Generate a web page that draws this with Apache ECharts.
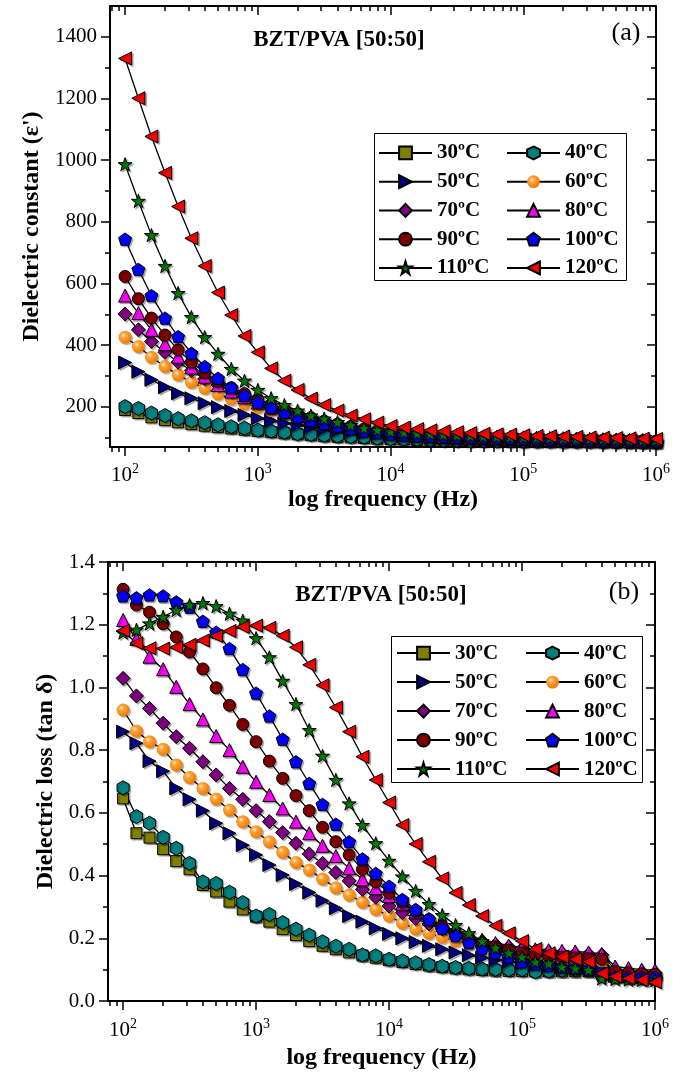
<!DOCTYPE html>
<html>
<head>
<meta charset="utf-8">
<script src="https://cdn.jsdelivr.net/npm/echarts@6/dist/echarts.min.js"></script>
<style>
html, body { margin: 0; padding: 0; background: #fff; }
#chart { width: 686px; height: 1072px; }
</style>
</head>
<body>
<div id="chart"></div>
<script>
// measured frequencies (Hz), 10 points per decade
const freq = [100, 126, 158, 200, 251, 316, 398, 501, 631, 794,
  1000, 1259, 1585, 1995, 2512, 3162, 3981, 5012, 6310, 7943,
  10000, 12589, 15849, 19953, 25119, 31623, 39811, 50119, 63096, 79433,
  100000, 125893, 158489, 199526, 251189, 316228, 398107, 501187, 630957, 794328,
  1000000];

const names = ['30ºC', '40ºC', '50ºC', '60ºC', '70ºC', '80ºC', '90ºC', '100ºC', '110ºC', '120ºC'];

// (a) dielectric constant
const eps30 = [190, 180, 166, 157, 150, 144, 139, 134, 130, 126, 122, 118, 114, 111, 108, 105, 103, 101, 99, 97, 95,
  94, 93, 92, 91, 90, 89, 89, 88, 88, 87, 87, 87, 86, 86, 86, 85, 85, 85, 84, 84];
const eps40 = [201, 195, 180, 172, 162, 155, 149, 142, 136, 131, 125, 122, 118, 113, 111, 108, 106, 104, 102, 99, 97,
  96, 95, 94, 93, 92, 91, 91, 90, 90, 89, 89, 89, 88, 88, 88, 87, 87, 87, 86, 86];
const eps50 = [344, 314, 288, 264, 244, 228, 212, 199, 187, 174, 163, 155, 147, 141, 134, 128, 123, 119, 115, 112, 109,
  107, 105, 103, 101, 100, 99, 98, 97, 96, 95, 94, 93, 93, 92, 91, 91, 90, 90, 89, 89];
const eps60 = [426, 396, 361, 331, 304, 280, 261, 242, 226, 210, 199, 188, 178, 168, 159, 150, 142, 135, 129, 123, 118,
  114, 111, 108, 105, 103, 101, 100, 99, 98, 97, 96, 95, 94, 93, 92, 92, 91, 90, 90, 89];
const eps70 = [501, 450, 412, 377, 345, 318, 291, 271, 250, 233, 216, 200, 186, 173, 162, 152, 143, 135, 128, 122, 117,
  113, 110, 107, 105, 103, 101, 100, 99, 98, 97, 96, 95, 94, 93, 92, 92, 91, 90, 90, 89];
const eps80 = [561, 504, 450, 404, 363, 328, 298, 271, 250, 231, 214, 198, 183, 170, 159, 149, 141, 133, 127, 121, 116,
  112, 109, 106, 104, 102, 100, 99, 98, 97, 96, 95, 94, 93, 93, 92, 91, 91, 90, 90, 89];
const eps90 = [623, 551, 488, 433, 385, 345, 311, 282, 262, 243, 225, 208, 192, 178, 165, 154, 144, 136, 128, 122, 117,
  113, 110, 107, 105, 103, 101, 100, 99, 98, 97, 96, 95, 94, 93, 92, 92, 91, 90, 90, 89];
const eps100 = [744, 646, 561, 488, 428, 374, 331, 293, 263, 237, 215, 199, 182, 168, 156, 147, 138, 130, 122, 117, 112,
  109, 107, 105, 104, 102, 101, 100, 99, 98, 97, 96, 95, 94, 94, 93, 92, 91, 91, 90, 89];
const eps110 = [987, 868, 757, 657, 569, 491, 426, 372, 323, 285, 255, 228, 206, 188, 172, 162, 151, 141, 132, 125, 120,
  117, 114, 112, 110, 108, 106, 104, 103, 102, 101, 100, 99, 98, 97, 96, 95, 94, 93, 92, 91];
const eps120 = [1330, 1201, 1077, 959, 850, 747, 657, 571, 498, 430, 377, 325, 285, 255, 227, 206, 188, 172, 160, 149, 138,
  133, 128, 124, 121, 118, 115, 113, 111, 110, 108, 106, 105, 104, 103, 101, 100, 99, 98, 97, 96];

// (b) dielectric loss
const tan30 = [0.646, 0.535, 0.521, 0.484, 0.446, 0.420, 0.370, 0.349, 0.317, 0.292, 0.269, 0.253, 0.229, 0.210, 0.191, 0.176, 0.165, 0.155, 0.145, 0.138, 0.130,
  0.124, 0.118, 0.113, 0.108, 0.104, 0.101, 0.099, 0.097, 0.096, 0.095, 0.094, 0.094, 0.094, 0.094, 0.094, 0.085, 0.078, 0.075, 0.073, 0.071];
const tan40 = [0.680, 0.588, 0.567, 0.522, 0.487, 0.439, 0.380, 0.375, 0.347, 0.314, 0.271, 0.276, 0.250, 0.229, 0.210, 0.189, 0.175, 0.165, 0.147, 0.144, 0.133,
  0.128, 0.122, 0.116, 0.111, 0.107, 0.104, 0.102, 0.101, 0.100, 0.100, 0.093, 0.096, 0.098, 0.100, 0.102, 0.090, 0.080, 0.077, 0.075, 0.073];
const tan50 = [0.859, 0.822, 0.765, 0.733, 0.678, 0.643, 0.607, 0.567, 0.535, 0.497, 0.466, 0.434, 0.402, 0.373, 0.346, 0.320, 0.296, 0.271, 0.253, 0.232, 0.214,
  0.200, 0.188, 0.176, 0.165, 0.155, 0.146, 0.138, 0.131, 0.125, 0.120, 0.116, 0.112, 0.109, 0.107, 0.105, 0.103, 0.080, 0.078, 0.076, 0.075];
const tan60 = [0.928, 0.861, 0.827, 0.803, 0.753, 0.713, 0.678, 0.644, 0.609, 0.572, 0.540, 0.508, 0.474, 0.442, 0.418, 0.389, 0.361, 0.338, 0.315, 0.292, 0.271,
  0.248, 0.230, 0.216, 0.203, 0.192, 0.182, 0.172, 0.164, 0.157, 0.150, 0.145, 0.140, 0.137, 0.135, 0.132, 0.128, 0.092, 0.088, 0.085, 0.083];
const tan70 = [1.029, 0.973, 0.933, 0.886, 0.843, 0.806, 0.763, 0.721, 0.678, 0.643, 0.607, 0.572, 0.537, 0.503, 0.469, 0.439, 0.410, 0.383, 0.356, 0.331, 0.303,
  0.282, 0.263, 0.246, 0.230, 0.215, 0.202, 0.190, 0.180, 0.172, 0.166, 0.160, 0.156, 0.152, 0.150, 0.149, 0.147, 0.100, 0.095, 0.092, 0.090];
const tan80 = [1.215, 1.155, 1.098, 1.058, 1.002, 0.947, 0.898, 0.845, 0.800, 0.747, 0.699, 0.657, 0.614, 0.572, 0.535, 0.495, 0.462, 0.423, 0.388, 0.360, 0.335,
  0.310, 0.285, 0.262, 0.242, 0.224, 0.208, 0.195, 0.185, 0.177, 0.170, 0.165, 0.162, 0.160, 0.158, 0.155, 0.150, 0.110, 0.105, 0.100, 0.098];
const tan90 = [1.313, 1.263, 1.240, 1.203, 1.161, 1.113, 1.059, 0.999, 0.943, 0.882, 0.827, 0.765, 0.710, 0.655, 0.607, 0.554, 0.508, 0.466, 0.420, 0.380, 0.345,
  0.315, 0.287, 0.260, 0.238, 0.218, 0.200, 0.185, 0.172, 0.162, 0.153, 0.147, 0.143, 0.140, 0.138, 0.135, 0.133, 0.095, 0.090, 0.087, 0.085];
const tan100 = [1.292, 1.286, 1.295, 1.292, 1.273, 1.256, 1.211, 1.176, 1.124, 1.057, 0.982, 0.909, 0.835, 0.763, 0.694, 0.627, 0.564, 0.508, 0.453, 0.407, 0.366,
  0.324, 0.292, 0.261, 0.232, 0.208, 0.186, 0.168, 0.154, 0.141, 0.125, 0.118, 0.113, 0.108, 0.104, 0.100, 0.080, 0.077, 0.076, 0.075, 0.075];
const tan110 = [1.175, 1.184, 1.204, 1.225, 1.247, 1.263, 1.269, 1.259, 1.235, 1.213, 1.157, 1.096, 1.021, 0.947, 0.864, 0.782, 0.705, 0.630, 0.561, 0.503, 0.447,
  0.397, 0.351, 0.309, 0.274, 0.242, 0.216, 0.191, 0.170, 0.154, 0.141, 0.125, 0.120, 0.109, 0.104, 0.099, 0.072, 0.070, 0.068, 0.067, 0.066];
const tan120 = [1.181, 1.141, 1.125, 1.124, 1.128, 1.136, 1.150, 1.164, 1.180, 1.193, 1.197, 1.190, 1.165, 1.128, 1.072, 1.007, 0.936, 0.859, 0.779, 0.705, 0.633,
  0.561, 0.501, 0.444, 0.391, 0.345, 0.306, 0.271, 0.240, 0.216, 0.191, 0.166, 0.152, 0.141, 0.133, 0.125, 0.088, 0.078, 0.072, 0.067, 0.060];

const epsData = [eps30, eps40, eps50, eps60, eps70, eps80, eps90, eps100, eps110, eps120];
const tanData = [tan30, tan40, tan50, tan60, tan70, tan80, tan90, tan100, tan110, tan120];

// tick positions
const xMajor = [100, 1000, 10000, 100000, 1000000];
const xMinor = [80, 90, 200, 300, 400, 500, 600, 700, 800, 900,
  2000, 3000, 4000, 5000, 6000, 7000, 8000, 9000,
  20000, 30000, 40000, 50000, 60000, 70000, 80000, 90000,
  200000, 300000, 400000, 500000, 600000, 700000, 800000, 900000];
const epsMajor = [200, 400, 600, 800, 1000, 1200, 1400];
const epsMinor = [100, 300, 500, 700, 900, 1100, 1300];

const FONT = '"Liberation Serif", "Times New Roman", serif';

const triRight = 'path://M0,0L10,5L0,10Z';
const triLeft = 'path://M10,0L0,5L10,10Z';
const hexagon = 'path://M5,0L9.33,2.5L9.33,7.5L5,10L0.67,7.5L0.67,2.5Z';
const pentagon = 'path://M5,0L9.755,3.455L7.939,9.045L2.061,9.045L0.245,3.455Z';
const star = 'path://M5,0L6.123,3.455L9.755,3.455L6.817,5.59L7.939,9.045L5,6.91L2.061,9.045L3.183,5.59L0.245,3.455L3.877,3.455Z';

const sphere = {
  type: 'radial', x: 0.38, y: 0.35, r: 0.65,
  colorStops: [
    { offset: 0, color: '#fff3dc' },
    { offset: 0.3, color: '#ffa53a' },
    { offset: 1, color: '#f07a00' },
  ],
};

const markers = [
  { symbol: 'rect', size: 11, color: '#808000' },
  { symbol: hexagon, size: 14, color: '#008080' },
  { symbol: triRight, size: 13, color: '#000080' },
  { symbol: 'circle', size: 13, color: sphere, border: 0 },
  { symbol: 'diamond', size: 14, color: '#800080' },
  { symbol: 'triangle', size: 13, color: '#ff00ff' },
  { symbol: 'circle', size: 12, color: '#800000' },
  { symbol: pentagon, size: 13, color: '#0000ff' },
  { symbol: star, size: 14, color: '#008000' },
  { symbol: triLeft, size: 13, color: '#ff0000' },
];

const black = { color: '#000', width: 1.5 };

function makeSeries(data, grid) {
  return data.map((vals, i) => ({
    name: names[i],
    type: 'line',
    xAxisIndex: grid * 4,
    yAxisIndex: grid * 4,
    data: freq.map((f, k) => [f, vals[k]]),
    symbol: markers[i].symbol,
    symbolSize: markers[i].size,
    symbolKeepAspect: true,
    showAllSymbol: true,
    lineStyle: { color: '#000', width: 1.3 },
    itemStyle: {
      color: markers[i].color,
      borderColor: '#000',
      borderWidth: markers[i].border === 0 ? 0 : 1,
      shadowColor: 'rgba(0,0,0,0.3)',
      shadowOffsetX: 1.5,
      shadowOffsetY: 1.5,
      shadowBlur: 1,
    },
    emphasis: { disabled: true },
    animation: false,
  }));
}

function supLabel(v) {
  const e = Math.round(Math.log10(v));
  return '{b|10}{s|' + e + '}';
}

function xAxes(grid, margin, nameGap) {
  const base = { gridIndex: grid, type: 'log', logBase: 10, min: 77, max: 1000000, splitLine: { show: false } };
  return [
    Object.assign({}, base, {
      position: 'bottom',
      name: 'log frequency (Hz)',
      nameLocation: 'middle',
      nameGap: nameGap,
      nameTextStyle: { fontFamily: FONT, fontWeight: 'bold', fontSize: 24, color: '#000' },
      axisLine: { show: true, onZero: false, lineStyle: { color: '#000', width: 2 } },
      axisTick: { show: true, inside: false, length: 9, lineStyle: black, customValues: xMajor },
      axisLabel: {
        customValues: xMajor, margin: margin, color: '#000', formatter: supLabel,
        rich: {
          b: { fontFamily: FONT, fontSize: 21, lineHeight: 26, color: '#000' },
          s: { fontFamily: FONT, fontSize: 14, lineHeight: 12, verticalAlign: 'top', color: '#000' },
        },
      },
    }),
    Object.assign({}, base, {
      position: 'bottom',
      axisLine: { show: false, onZero: false },
      axisTick: { show: true, inside: false, length: 5, lineStyle: black, customValues: xMinor },
      axisLabel: { show: false },
    }),
    Object.assign({}, base, {
      position: 'top',
      axisLine: { show: true, onZero: false, lineStyle: { color: '#000', width: 2 } },
      axisTick: { show: true, inside: true, length: 9, lineStyle: black, customValues: xMajor },
      axisLabel: { show: false },
    }),
    Object.assign({}, base, {
      position: 'top',
      axisLine: { show: false, onZero: false },
      axisTick: { show: true, inside: true, length: 5, lineStyle: black, customValues: xMinor },
      axisLabel: { show: false },
    }),
  ];
}

const yName = { fontFamily: FONT, fontWeight: 'bold', fontSize: 24, color: '#000' };
const yLabel = { fontFamily: FONT, fontSize: 21, color: '#000', margin: 13 };

const yAxesA = [
  {
    gridIndex: 0, type: 'value', min: 70, max: 1500, position: 'left',
    name: 'Dielectric constant (ε\')', nameLocation: 'middle', nameGap: 59, nameTextStyle: yName,
    axisLine: { show: true, onZero: false, lineStyle: { color: '#000', width: 2 } },
    axisTick: { show: true, inside: false, length: 9, lineStyle: black, customValues: epsMajor },
    axisLabel: Object.assign({ customValues: epsMajor, formatter: (v) => String(v) }, yLabel),
    splitLine: { show: false },
  },
  {
    gridIndex: 0, type: 'value', min: 70, max: 1500, position: 'left',
    axisLine: { show: false, onZero: false },
    axisTick: { show: true, inside: false, length: 5, lineStyle: black, customValues: epsMinor },
    axisLabel: { show: false }, splitLine: { show: false },
  },
  {
    gridIndex: 0, type: 'value', min: 70, max: 1500, position: 'right',
    axisLine: { show: true, onZero: false, lineStyle: { color: '#000', width: 2 } },
    axisTick: { show: true, inside: true, length: 9, lineStyle: black, customValues: epsMajor },
    axisLabel: { show: false }, splitLine: { show: false },
  },
  {
    gridIndex: 0, type: 'value', min: 70, max: 1500, position: 'right',
    axisLine: { show: false, onZero: false },
    axisTick: { show: true, inside: true, length: 5, lineStyle: black, customValues: epsMinor },
    axisLabel: { show: false }, splitLine: { show: false },
  },
];

const yAxesB = [
  {
    gridIndex: 1, type: 'value', min: 0, max: 1.4, interval: 0.2, position: 'left',
    name: 'Dielectric loss (tan δ)', nameLocation: 'middle', nameGap: 41, nameTextStyle: yName,
    axisLine: { show: true, onZero: false, lineStyle: { color: '#000', width: 2 } },
    axisTick: { show: true, inside: false, length: 9, lineStyle: black },
    minorTick: { show: true, splitNumber: 2, length: 5, lineStyle: black },
    axisLabel: Object.assign({ formatter: (v) => v.toFixed(1) }, yLabel),
    splitLine: { show: false }, minorSplitLine: { show: false },
  },
  {
    gridIndex: 1, type: 'value', min: 0, max: 1.4, interval: 0.2, position: 'right',
    axisLine: { show: true, onZero: false, lineStyle: { color: '#000', width: 2 } },
    axisTick: { show: true, inside: true, length: 9, lineStyle: black },
    minorTick: { show: true, splitNumber: 2, length: 5, lineStyle: black },
    axisLabel: { show: false }, splitLine: { show: false }, minorSplitLine: { show: false },
  },
];

function legendCol(items, left, top, gap) {
  return {
    orient: 'vertical', left: left, top: top, padding: 0,
    data: items, itemWidth: 53, itemHeight: 16, itemGap: gap,
    selectedMode: false,
    textStyle: { fontFamily: FONT, fontWeight: 'bold', fontSize: 21, color: '#000' },
  };
}

const colA = [names[0], names[2], names[4], names[6], names[8]];
const colB = [names[1], names[3], names[5], names[7], names[9]];

const option = {
  animation: false,
  backgroundColor: '#fff',
  grid: [
    { left: 110, top: 6, right: 30, bottom: 625, outerBoundsMode: 'none' },
    { left: 108, top: 562, right: 31, bottom: 71, outerBoundsMode: 'none' },
  ],
  xAxis: xAxes(0, 15, 41).concat(xAxes(1, 16, 45)),
  yAxis: yAxesA.concat(yAxesB),
  legend: [
    legendCol(colA, 378, 142.4, 7.75),
    legendCol(colB, 506, 142.4, 7.75),
    legendCol(colA, 396, 642.6, 8),
    legendCol(colB, 525, 642.6, 8),
  ],
  graphic: [
    { type: 'rect', shape: { x: 374.5, y: 133.5, width: 252, height: 147 }, style: { fill: 'none', stroke: '#000', lineWidth: 1 } },
    { type: 'rect', shape: { x: 391.5, y: 636.5, width: 251, height: 146 }, style: { fill: 'none', stroke: '#000', lineWidth: 1 } },
    { type: 'text', x: 339, y: 40, style: { text: 'BZT/PVA [50:50]', font: 'bold 23px ' + FONT, align: 'center', verticalAlign: 'middle', fill: '#000' } },
    { type: 'text', x: 381, y: 595, style: { text: 'BZT/PVA [50:50]', font: 'bold 23px ' + FONT, align: 'center', verticalAlign: 'middle', fill: '#000' } },
    { type: 'text', x: 626, y: 33, style: { text: '(a)', font: '26px ' + FONT, align: 'center', verticalAlign: 'middle', fill: '#000' } },
    { type: 'text', x: 624, y: 592, style: { text: '(b)', font: '26px ' + FONT, align: 'center', verticalAlign: 'middle', fill: '#000' } },
  ],
  series: makeSeries(epsData, 0).concat(makeSeries(tanData, 1)),
};

const chart = echarts.init(document.getElementById('chart'));
chart.setOption(option);
</script>
</body>
</html>
